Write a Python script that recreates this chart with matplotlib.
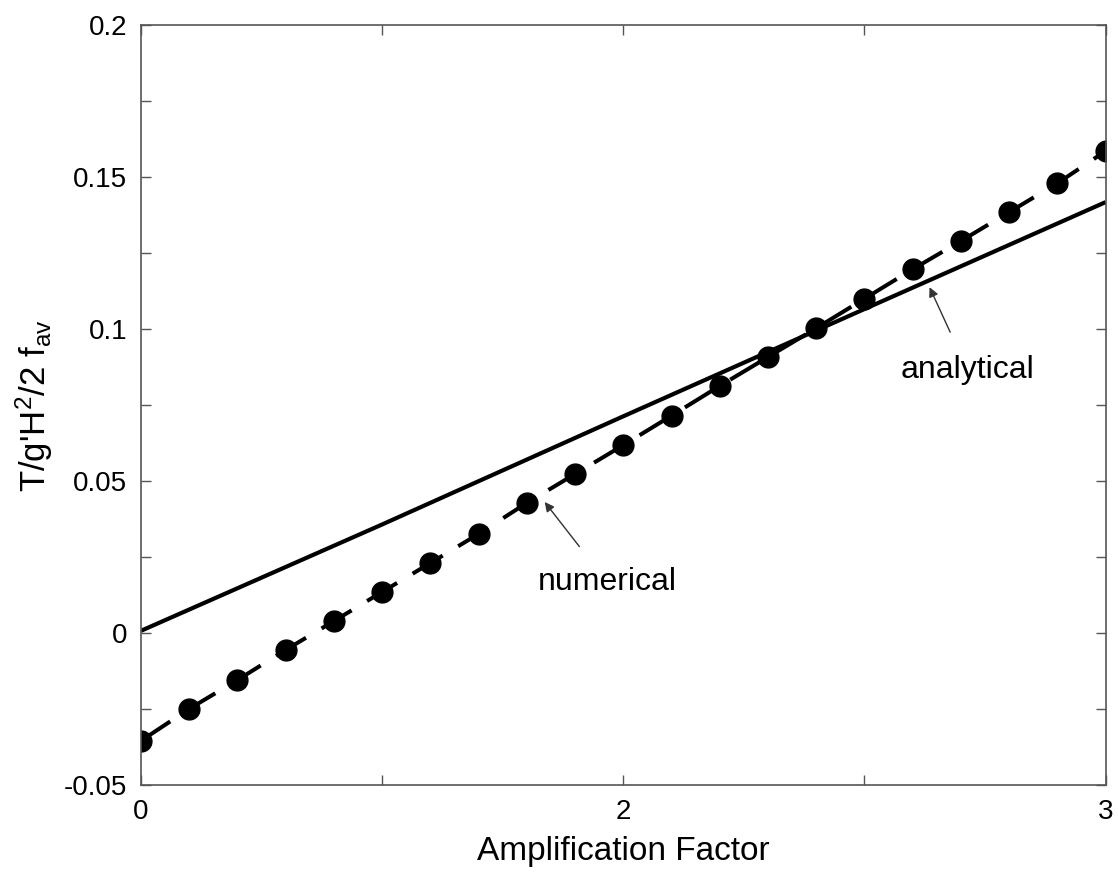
import matplotlib
matplotlib.use("Agg")
import matplotlib.pyplot as plt
import numpy as np

plt.rcParams['font.family'] = ['Liberation Sans', 'DejaVu Sans']
plt.rcParams['mathtext.default'] = 'regular'

# data
amp = [1.0, 1.1, 1.2, 1.3, 1.4, 1.5, 1.6, 1.7, 1.8, 1.9, 2.0,
       2.1, 2.2, 2.3, 2.4, 2.5, 2.6, 2.7, 2.8, 2.9, 3.0]
numerical = [-0.0355, -0.025, -0.0155, -0.0056, 0.0039, 0.0135, 0.023,
             0.0326, 0.0428, 0.0523, 0.0618, 0.0715, 0.0813, 0.0908,
             0.1003, 0.110, 0.1197, 0.129, 0.1385, 0.148, 0.1586]
amp_an = [1.0, 1.5, 2.0, 2.5, 3.0]
analytical = [0.0007, 0.0357, 0.0713, 0.1066, 0.1418]

xticks = [1.0, 1.5, 2.0, 2.5, 3.0]
xticklabels = ['0', '', '2', '', '3']
yticks = [-0.05, -0.025, 0, 0.025, 0.05, 0.075, 0.1, 0.125, 0.15, 0.175, 0.2]
yticklabels = ['-0.05', '', '0', '', '0.05', '', '0.1', '', '0.15', '', '0.2']

fig = plt.figure(figsize=(11.19, 8.73), dpi=100)
ax = fig.add_axes([0.126, 0.101, 0.862, 0.870])

ax.plot(amp_an, analytical, color='black', lw=3, solid_capstyle='butt')
ax.plot(amp, numerical, color='black', lw=2.9, dashes=(8.7, 4.5),
        marker='o', markersize=15)

ax.annotate('analytical', xy=(2.635, 0.1138), xytext=(2.714, 0.0865),
            fontsize=23, ha='center', va='center',
            arrowprops=dict(arrowstyle='-|>', color='#333333', lw=1,
                            mutation_scale=14, shrinkA=16, shrinkB=0))
ax.annotate('numerical', xy=(1.837, 0.0431), xytext=(1.966, 0.0168),
            fontsize=23, ha='center', va='center',
            arrowprops=dict(arrowstyle='-|>', color='#333333', lw=1,
                            mutation_scale=14, shrinkA=16, shrinkB=0))

ax.set_xlim(1.0, 3.0)
ax.set_ylim(-0.05, 0.2)
ax.set_xticks(xticks)
ax.set_xticklabels(xticklabels)
ax.set_yticks(yticks)
ax.set_yticklabels(yticklabels)
ax.tick_params(direction='in', length=7, width=1, color='#555555',
               top=True, right=True, labelsize=20, pad=10)

for s in ax.spines.values():
    s.set_linewidth(1.2)
    s.set_color('#555555')

ax.set_xlabel('Amplification Factor', fontsize=24, labelpad=8)
ax.set_ylabel("T/g'H$^2$/2 f$_{av}$", fontsize=25, labelpad=6)

fig.savefig('out.png', dpi=100)
